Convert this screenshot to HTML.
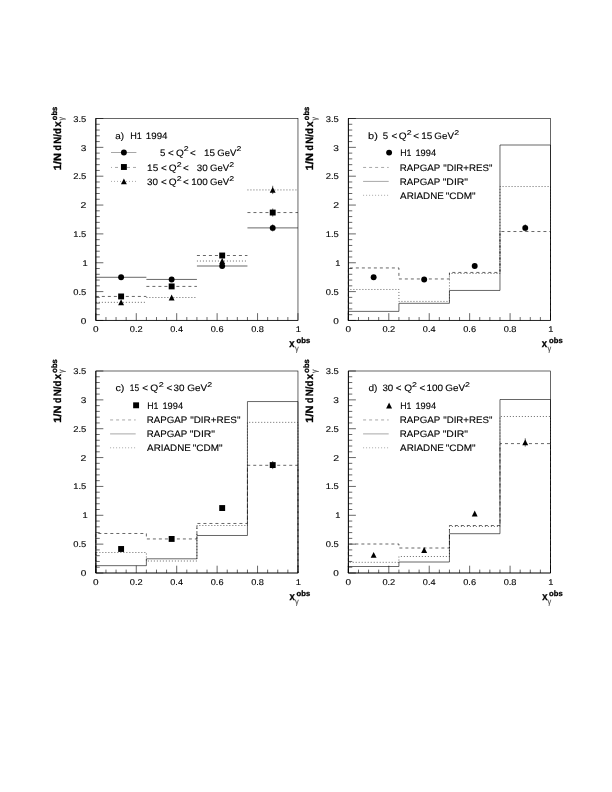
<!DOCTYPE html>
<html><head><meta charset="utf-8"><title>fig</title>
<style>
html,body{margin:0;padding:0;background:#fff;}
svg{display:block;will-change:transform;text-rendering:geometricPrecision;font-family:"Liberation Sans",sans-serif;}
</style></head><body>
<svg width="612" height="792" viewBox="0 0 612 792">
<rect width="612" height="792" fill="#fff"/>
<rect x="95.85" y="118.5" width="202.12000000000003" height="201.95" fill="none" stroke="#000" stroke-width="0.6"/>
<line x1="95.85" y1="118.50" x2="95.85" y2="320.45" stroke="#000" stroke-width="0.6"/>
<line x1="95.85" y1="320.45" x2="297.97" y2="320.45" stroke="#000" stroke-width="0.6"/>
<line x1="95.85" y1="118.50" x2="95.85" y2="320.45" stroke="#000" stroke-width="0.6"/>
<line x1="95.85" y1="320.45" x2="103.35" y2="320.45" stroke="#000" stroke-width="0.6"/>
<text transform="translate(80.76,323.95) scale(1.193,1)" font-size="8.4" fill="#000" stroke="#000" stroke-width="0.12">0</text>
<line x1="95.85" y1="314.68" x2="99.75" y2="314.68" stroke="#000" stroke-width="0.6"/>
<line x1="95.85" y1="308.91" x2="99.75" y2="308.91" stroke="#000" stroke-width="0.6"/>
<line x1="95.85" y1="303.14" x2="99.75" y2="303.14" stroke="#000" stroke-width="0.6"/>
<line x1="95.85" y1="297.37" x2="99.75" y2="297.37" stroke="#000" stroke-width="0.6"/>
<line x1="95.85" y1="291.60" x2="103.35" y2="291.60" stroke="#000" stroke-width="0.6"/>
<text transform="translate(73.28,294.60) scale(1.118,1)" font-size="8.4" fill="#000" stroke="#000" stroke-width="0.12">0.5</text>
<line x1="95.85" y1="285.83" x2="99.75" y2="285.83" stroke="#000" stroke-width="0.6"/>
<line x1="95.85" y1="280.06" x2="99.75" y2="280.06" stroke="#000" stroke-width="0.6"/>
<line x1="95.85" y1="274.29" x2="99.75" y2="274.29" stroke="#000" stroke-width="0.6"/>
<line x1="95.85" y1="268.52" x2="99.75" y2="268.52" stroke="#000" stroke-width="0.6"/>
<line x1="95.85" y1="262.75" x2="103.35" y2="262.75" stroke="#000" stroke-width="0.6"/>
<text transform="translate(82.61,265.75) scale(1.107,1)" font-size="8.4" fill="#000" stroke="#000" stroke-width="0.12">1</text>
<line x1="95.85" y1="256.98" x2="99.75" y2="256.98" stroke="#000" stroke-width="0.6"/>
<line x1="95.85" y1="251.21" x2="99.75" y2="251.21" stroke="#000" stroke-width="0.6"/>
<line x1="95.85" y1="245.44" x2="99.75" y2="245.44" stroke="#000" stroke-width="0.6"/>
<line x1="95.85" y1="239.67" x2="99.75" y2="239.67" stroke="#000" stroke-width="0.6"/>
<line x1="95.85" y1="233.90" x2="103.35" y2="233.90" stroke="#000" stroke-width="0.6"/>
<text transform="translate(73.30,236.90) scale(1.116,1)" font-size="8.4" fill="#000" stroke="#000" stroke-width="0.12">1.5</text>
<line x1="95.85" y1="228.13" x2="99.75" y2="228.13" stroke="#000" stroke-width="0.6"/>
<line x1="95.85" y1="222.36" x2="99.75" y2="222.36" stroke="#000" stroke-width="0.6"/>
<line x1="95.85" y1="216.59" x2="99.75" y2="216.59" stroke="#000" stroke-width="0.6"/>
<line x1="95.85" y1="210.82" x2="99.75" y2="210.82" stroke="#000" stroke-width="0.6"/>
<line x1="95.85" y1="205.05" x2="103.35" y2="205.05" stroke="#000" stroke-width="0.6"/>
<text transform="translate(80.62,208.05) scale(1.253,1)" font-size="8.4" fill="#000" stroke="#000" stroke-width="0.12">2</text>
<line x1="95.85" y1="199.28" x2="99.75" y2="199.28" stroke="#000" stroke-width="0.6"/>
<line x1="95.85" y1="193.51" x2="99.75" y2="193.51" stroke="#000" stroke-width="0.6"/>
<line x1="95.85" y1="187.74" x2="99.75" y2="187.74" stroke="#000" stroke-width="0.6"/>
<line x1="95.85" y1="181.97" x2="99.75" y2="181.97" stroke="#000" stroke-width="0.6"/>
<line x1="95.85" y1="176.20" x2="103.35" y2="176.20" stroke="#000" stroke-width="0.6"/>
<text transform="translate(73.18,179.20) scale(1.127,1)" font-size="8.4" fill="#000" stroke="#000" stroke-width="0.12">2.5</text>
<line x1="95.85" y1="170.43" x2="99.75" y2="170.43" stroke="#000" stroke-width="0.6"/>
<line x1="95.85" y1="164.66" x2="99.75" y2="164.66" stroke="#000" stroke-width="0.6"/>
<line x1="95.85" y1="158.89" x2="99.75" y2="158.89" stroke="#000" stroke-width="0.6"/>
<line x1="95.85" y1="153.12" x2="99.75" y2="153.12" stroke="#000" stroke-width="0.6"/>
<line x1="95.85" y1="147.35" x2="103.35" y2="147.35" stroke="#000" stroke-width="0.6"/>
<text transform="translate(80.77,151.05) scale(1.203,1)" font-size="8.4" fill="#000" stroke="#000" stroke-width="0.12">3</text>
<line x1="95.85" y1="141.58" x2="99.75" y2="141.58" stroke="#000" stroke-width="0.6"/>
<line x1="95.85" y1="135.81" x2="99.75" y2="135.81" stroke="#000" stroke-width="0.6"/>
<line x1="95.85" y1="130.04" x2="99.75" y2="130.04" stroke="#000" stroke-width="0.6"/>
<line x1="95.85" y1="124.27" x2="99.75" y2="124.27" stroke="#000" stroke-width="0.6"/>
<line x1="95.85" y1="118.50" x2="103.35" y2="118.50" stroke="#000" stroke-width="0.6"/>
<text transform="translate(73.29,121.50) scale(1.117,1)" font-size="8.4" fill="#000" stroke="#000" stroke-width="0.12">3.5</text>
<line x1="95.85" y1="320.45" x2="95.85" y2="313.15" stroke="#000" stroke-width="0.6"/>
<text transform="translate(93.06,331.55) scale(1.193,1)" font-size="8.4" fill="#000" stroke="#000" stroke-width="0.12">0</text>
<line x1="105.96" y1="320.45" x2="105.96" y2="317.05" stroke="#000" stroke-width="0.6"/>
<line x1="116.06" y1="320.45" x2="116.06" y2="317.05" stroke="#000" stroke-width="0.6"/>
<line x1="126.17" y1="320.45" x2="126.17" y2="317.05" stroke="#000" stroke-width="0.6"/>
<line x1="136.27" y1="320.45" x2="136.27" y2="313.15" stroke="#000" stroke-width="0.6"/>
<text transform="translate(129.86,331.55) scale(1.107,1)" font-size="8.4" fill="#000" stroke="#000" stroke-width="0.12">0.2</text>
<line x1="146.38" y1="320.45" x2="146.38" y2="317.05" stroke="#000" stroke-width="0.6"/>
<line x1="156.49" y1="320.45" x2="156.49" y2="317.05" stroke="#000" stroke-width="0.6"/>
<line x1="166.59" y1="320.45" x2="166.59" y2="317.05" stroke="#000" stroke-width="0.6"/>
<line x1="176.70" y1="320.45" x2="176.70" y2="313.15" stroke="#000" stroke-width="0.6"/>
<text transform="translate(170.29,331.55) scale(1.090,1)" font-size="8.4" fill="#000" stroke="#000" stroke-width="0.12">0.4</text>
<line x1="186.80" y1="320.45" x2="186.80" y2="317.05" stroke="#000" stroke-width="0.6"/>
<line x1="196.91" y1="320.45" x2="196.91" y2="317.05" stroke="#000" stroke-width="0.6"/>
<line x1="207.02" y1="320.45" x2="207.02" y2="317.05" stroke="#000" stroke-width="0.6"/>
<line x1="217.12" y1="320.45" x2="217.12" y2="313.15" stroke="#000" stroke-width="0.6"/>
<text transform="translate(210.71,331.55) scale(1.101,1)" font-size="8.4" fill="#000" stroke="#000" stroke-width="0.12">0.6</text>
<line x1="227.23" y1="320.45" x2="227.23" y2="317.05" stroke="#000" stroke-width="0.6"/>
<line x1="237.33" y1="320.45" x2="237.33" y2="317.05" stroke="#000" stroke-width="0.6"/>
<line x1="247.44" y1="320.45" x2="247.44" y2="317.05" stroke="#000" stroke-width="0.6"/>
<line x1="257.55" y1="320.45" x2="257.55" y2="313.15" stroke="#000" stroke-width="0.6"/>
<text transform="translate(251.14,331.55) scale(1.101,1)" font-size="8.4" fill="#000" stroke="#000" stroke-width="0.12">0.8</text>
<line x1="267.65" y1="320.45" x2="267.65" y2="317.05" stroke="#000" stroke-width="0.6"/>
<line x1="277.76" y1="320.45" x2="277.76" y2="317.05" stroke="#000" stroke-width="0.6"/>
<line x1="287.86" y1="320.45" x2="287.86" y2="317.05" stroke="#000" stroke-width="0.6"/>
<line x1="297.97" y1="320.45" x2="297.97" y2="313.15" stroke="#000" stroke-width="0.6"/>
<text transform="translate(295.83,331.55) scale(1.107,1)" font-size="8.4" fill="#000" stroke="#000" stroke-width="0.12">1</text>
<text transform="translate(289.31,346.75) scale(0.887,1)" font-size="10.8" font-weight="bold" fill="#000" stroke="#000" stroke-width="0.3">x</text>
<text transform="translate(296.57,342.95) scale(1.007,1)" font-size="7.6" font-weight="bold" fill="#000" stroke="#000" stroke-width="0.3">obs</text>
<text transform="translate(294.95,350.95) scale(0.936,1)" font-size="8" fill="#444" stroke="#444" stroke-width="0.12">γ</text>
<g transform="translate(60.75,118.50) rotate(-90)">
<text transform="translate(-51.76,0.00) scale(1.046,1)" font-size="10.5" font-weight="bold" fill="#000" stroke="#000" stroke-width="0.3">1/N</text>
<text transform="translate(-32.00,0.00) scale(0.822,1)" font-size="10.5" font-weight="bold" fill="#000" stroke="#000" stroke-width="0.3">d</text>
<text transform="translate(-25.13,0.00) scale(0.914,1)" font-size="10.5" font-weight="bold" fill="#000" stroke="#000" stroke-width="0.3">N/d</text>
<text transform="translate(-8.46,0.00) scale(0.965,1)" font-size="10.5" font-weight="bold" fill="#000" stroke="#000" stroke-width="0.3">x</text>
<text transform="translate(-1.69,-3.80) scale(0.966,1)" font-size="7.8" font-weight="bold" fill="#000" stroke="#000" stroke-width="0.3">obs</text>
<text transform="translate(-2.12,3.35) scale(0.860,1)" font-size="8" fill="#444" stroke="#444" stroke-width="0.12">γ</text>
</g>
<rect x="348.38" y="118.5" width="202.12" height="201.95" fill="none" stroke="#000" stroke-width="0.6"/>
<line x1="348.38" y1="118.50" x2="348.38" y2="320.45" stroke="#000" stroke-width="0.6"/>
<line x1="348.38" y1="320.45" x2="550.50" y2="320.45" stroke="#000" stroke-width="0.6"/>
<line x1="348.38" y1="118.50" x2="348.38" y2="320.45" stroke="#000" stroke-width="0.6"/>
<line x1="348.38" y1="320.45" x2="355.88" y2="320.45" stroke="#000" stroke-width="0.6"/>
<text transform="translate(333.29,323.95) scale(1.193,1)" font-size="8.4" fill="#000" stroke="#000" stroke-width="0.12">0</text>
<line x1="348.38" y1="314.68" x2="352.28" y2="314.68" stroke="#000" stroke-width="0.6"/>
<line x1="348.38" y1="308.91" x2="352.28" y2="308.91" stroke="#000" stroke-width="0.6"/>
<line x1="348.38" y1="303.14" x2="352.28" y2="303.14" stroke="#000" stroke-width="0.6"/>
<line x1="348.38" y1="297.37" x2="352.28" y2="297.37" stroke="#000" stroke-width="0.6"/>
<line x1="348.38" y1="291.60" x2="355.88" y2="291.60" stroke="#000" stroke-width="0.6"/>
<text transform="translate(325.81,294.60) scale(1.118,1)" font-size="8.4" fill="#000" stroke="#000" stroke-width="0.12">0.5</text>
<line x1="348.38" y1="285.83" x2="352.28" y2="285.83" stroke="#000" stroke-width="0.6"/>
<line x1="348.38" y1="280.06" x2="352.28" y2="280.06" stroke="#000" stroke-width="0.6"/>
<line x1="348.38" y1="274.29" x2="352.28" y2="274.29" stroke="#000" stroke-width="0.6"/>
<line x1="348.38" y1="268.52" x2="352.28" y2="268.52" stroke="#000" stroke-width="0.6"/>
<line x1="348.38" y1="262.75" x2="355.88" y2="262.75" stroke="#000" stroke-width="0.6"/>
<text transform="translate(335.14,265.75) scale(1.107,1)" font-size="8.4" fill="#000" stroke="#000" stroke-width="0.12">1</text>
<line x1="348.38" y1="256.98" x2="352.28" y2="256.98" stroke="#000" stroke-width="0.6"/>
<line x1="348.38" y1="251.21" x2="352.28" y2="251.21" stroke="#000" stroke-width="0.6"/>
<line x1="348.38" y1="245.44" x2="352.28" y2="245.44" stroke="#000" stroke-width="0.6"/>
<line x1="348.38" y1="239.67" x2="352.28" y2="239.67" stroke="#000" stroke-width="0.6"/>
<line x1="348.38" y1="233.90" x2="355.88" y2="233.90" stroke="#000" stroke-width="0.6"/>
<text transform="translate(325.83,236.90) scale(1.116,1)" font-size="8.4" fill="#000" stroke="#000" stroke-width="0.12">1.5</text>
<line x1="348.38" y1="228.13" x2="352.28" y2="228.13" stroke="#000" stroke-width="0.6"/>
<line x1="348.38" y1="222.36" x2="352.28" y2="222.36" stroke="#000" stroke-width="0.6"/>
<line x1="348.38" y1="216.59" x2="352.28" y2="216.59" stroke="#000" stroke-width="0.6"/>
<line x1="348.38" y1="210.82" x2="352.28" y2="210.82" stroke="#000" stroke-width="0.6"/>
<line x1="348.38" y1="205.05" x2="355.88" y2="205.05" stroke="#000" stroke-width="0.6"/>
<text transform="translate(333.15,208.05) scale(1.253,1)" font-size="8.4" fill="#000" stroke="#000" stroke-width="0.12">2</text>
<line x1="348.38" y1="199.28" x2="352.28" y2="199.28" stroke="#000" stroke-width="0.6"/>
<line x1="348.38" y1="193.51" x2="352.28" y2="193.51" stroke="#000" stroke-width="0.6"/>
<line x1="348.38" y1="187.74" x2="352.28" y2="187.74" stroke="#000" stroke-width="0.6"/>
<line x1="348.38" y1="181.97" x2="352.28" y2="181.97" stroke="#000" stroke-width="0.6"/>
<line x1="348.38" y1="176.20" x2="355.88" y2="176.20" stroke="#000" stroke-width="0.6"/>
<text transform="translate(325.71,179.20) scale(1.127,1)" font-size="8.4" fill="#000" stroke="#000" stroke-width="0.12">2.5</text>
<line x1="348.38" y1="170.43" x2="352.28" y2="170.43" stroke="#000" stroke-width="0.6"/>
<line x1="348.38" y1="164.66" x2="352.28" y2="164.66" stroke="#000" stroke-width="0.6"/>
<line x1="348.38" y1="158.89" x2="352.28" y2="158.89" stroke="#000" stroke-width="0.6"/>
<line x1="348.38" y1="153.12" x2="352.28" y2="153.12" stroke="#000" stroke-width="0.6"/>
<line x1="348.38" y1="147.35" x2="355.88" y2="147.35" stroke="#000" stroke-width="0.6"/>
<text transform="translate(333.30,151.05) scale(1.203,1)" font-size="8.4" fill="#000" stroke="#000" stroke-width="0.12">3</text>
<line x1="348.38" y1="141.58" x2="352.28" y2="141.58" stroke="#000" stroke-width="0.6"/>
<line x1="348.38" y1="135.81" x2="352.28" y2="135.81" stroke="#000" stroke-width="0.6"/>
<line x1="348.38" y1="130.04" x2="352.28" y2="130.04" stroke="#000" stroke-width="0.6"/>
<line x1="348.38" y1="124.27" x2="352.28" y2="124.27" stroke="#000" stroke-width="0.6"/>
<line x1="348.38" y1="118.50" x2="355.88" y2="118.50" stroke="#000" stroke-width="0.6"/>
<text transform="translate(325.82,121.50) scale(1.117,1)" font-size="8.4" fill="#000" stroke="#000" stroke-width="0.12">3.5</text>
<line x1="348.38" y1="320.45" x2="348.38" y2="313.15" stroke="#000" stroke-width="0.6"/>
<text transform="translate(345.59,331.55) scale(1.193,1)" font-size="8.4" fill="#000" stroke="#000" stroke-width="0.12">0</text>
<line x1="358.49" y1="320.45" x2="358.49" y2="317.05" stroke="#000" stroke-width="0.6"/>
<line x1="368.59" y1="320.45" x2="368.59" y2="317.05" stroke="#000" stroke-width="0.6"/>
<line x1="378.70" y1="320.45" x2="378.70" y2="317.05" stroke="#000" stroke-width="0.6"/>
<line x1="388.80" y1="320.45" x2="388.80" y2="313.15" stroke="#000" stroke-width="0.6"/>
<text transform="translate(382.39,331.55) scale(1.107,1)" font-size="8.4" fill="#000" stroke="#000" stroke-width="0.12">0.2</text>
<line x1="398.91" y1="320.45" x2="398.91" y2="317.05" stroke="#000" stroke-width="0.6"/>
<line x1="409.02" y1="320.45" x2="409.02" y2="317.05" stroke="#000" stroke-width="0.6"/>
<line x1="419.12" y1="320.45" x2="419.12" y2="317.05" stroke="#000" stroke-width="0.6"/>
<line x1="429.23" y1="320.45" x2="429.23" y2="313.15" stroke="#000" stroke-width="0.6"/>
<text transform="translate(422.82,331.55) scale(1.090,1)" font-size="8.4" fill="#000" stroke="#000" stroke-width="0.12">0.4</text>
<line x1="439.33" y1="320.45" x2="439.33" y2="317.05" stroke="#000" stroke-width="0.6"/>
<line x1="449.44" y1="320.45" x2="449.44" y2="317.05" stroke="#000" stroke-width="0.6"/>
<line x1="459.55" y1="320.45" x2="459.55" y2="317.05" stroke="#000" stroke-width="0.6"/>
<line x1="469.65" y1="320.45" x2="469.65" y2="313.15" stroke="#000" stroke-width="0.6"/>
<text transform="translate(463.24,331.55) scale(1.101,1)" font-size="8.4" fill="#000" stroke="#000" stroke-width="0.12">0.6</text>
<line x1="479.76" y1="320.45" x2="479.76" y2="317.05" stroke="#000" stroke-width="0.6"/>
<line x1="489.86" y1="320.45" x2="489.86" y2="317.05" stroke="#000" stroke-width="0.6"/>
<line x1="499.97" y1="320.45" x2="499.97" y2="317.05" stroke="#000" stroke-width="0.6"/>
<line x1="510.08" y1="320.45" x2="510.08" y2="313.15" stroke="#000" stroke-width="0.6"/>
<text transform="translate(503.67,331.55) scale(1.101,1)" font-size="8.4" fill="#000" stroke="#000" stroke-width="0.12">0.8</text>
<line x1="520.18" y1="320.45" x2="520.18" y2="317.05" stroke="#000" stroke-width="0.6"/>
<line x1="530.29" y1="320.45" x2="530.29" y2="317.05" stroke="#000" stroke-width="0.6"/>
<line x1="540.39" y1="320.45" x2="540.39" y2="317.05" stroke="#000" stroke-width="0.6"/>
<line x1="550.50" y1="320.45" x2="550.50" y2="313.15" stroke="#000" stroke-width="0.6"/>
<text transform="translate(548.36,331.55) scale(1.107,1)" font-size="8.4" fill="#000" stroke="#000" stroke-width="0.12">1</text>
<text transform="translate(541.84,346.75) scale(0.887,1)" font-size="10.8" font-weight="bold" fill="#000" stroke="#000" stroke-width="0.3">x</text>
<text transform="translate(549.10,342.95) scale(1.007,1)" font-size="7.6" font-weight="bold" fill="#000" stroke="#000" stroke-width="0.3">obs</text>
<text transform="translate(547.48,350.95) scale(0.936,1)" font-size="8" fill="#444" stroke="#444" stroke-width="0.12">γ</text>
<g transform="translate(313.28,118.50) rotate(-90)">
<text transform="translate(-51.76,0.00) scale(1.046,1)" font-size="10.5" font-weight="bold" fill="#000" stroke="#000" stroke-width="0.3">1/N</text>
<text transform="translate(-32.00,0.00) scale(0.822,1)" font-size="10.5" font-weight="bold" fill="#000" stroke="#000" stroke-width="0.3">d</text>
<text transform="translate(-25.13,0.00) scale(0.914,1)" font-size="10.5" font-weight="bold" fill="#000" stroke="#000" stroke-width="0.3">N/d</text>
<text transform="translate(-8.46,0.00) scale(0.965,1)" font-size="10.5" font-weight="bold" fill="#000" stroke="#000" stroke-width="0.3">x</text>
<text transform="translate(-1.69,-3.80) scale(0.966,1)" font-size="7.8" font-weight="bold" fill="#000" stroke="#000" stroke-width="0.3">obs</text>
<text transform="translate(-2.12,3.35) scale(0.860,1)" font-size="8" fill="#444" stroke="#444" stroke-width="0.12">γ</text>
</g>
<rect x="95.85" y="371.0" width="202.12000000000003" height="202.0" fill="none" stroke="#000" stroke-width="0.6"/>
<line x1="95.85" y1="371.00" x2="95.85" y2="573.00" stroke="#000" stroke-width="0.6"/>
<line x1="95.85" y1="573.00" x2="297.97" y2="573.00" stroke="#000" stroke-width="0.6"/>
<line x1="95.85" y1="371.00" x2="95.85" y2="573.00" stroke="#000" stroke-width="0.6"/>
<line x1="95.85" y1="573.00" x2="103.35" y2="573.00" stroke="#000" stroke-width="0.6"/>
<text transform="translate(80.76,576.00) scale(1.193,1)" font-size="8.4" fill="#000" stroke="#000" stroke-width="0.12">0</text>
<line x1="95.85" y1="567.23" x2="99.75" y2="567.23" stroke="#000" stroke-width="0.6"/>
<line x1="95.85" y1="561.46" x2="99.75" y2="561.46" stroke="#000" stroke-width="0.6"/>
<line x1="95.85" y1="555.69" x2="99.75" y2="555.69" stroke="#000" stroke-width="0.6"/>
<line x1="95.85" y1="549.91" x2="99.75" y2="549.91" stroke="#000" stroke-width="0.6"/>
<line x1="95.85" y1="544.14" x2="103.35" y2="544.14" stroke="#000" stroke-width="0.6"/>
<text transform="translate(73.28,547.14) scale(1.118,1)" font-size="8.4" fill="#000" stroke="#000" stroke-width="0.12">0.5</text>
<line x1="95.85" y1="538.37" x2="99.75" y2="538.37" stroke="#000" stroke-width="0.6"/>
<line x1="95.85" y1="532.60" x2="99.75" y2="532.60" stroke="#000" stroke-width="0.6"/>
<line x1="95.85" y1="526.83" x2="99.75" y2="526.83" stroke="#000" stroke-width="0.6"/>
<line x1="95.85" y1="521.06" x2="99.75" y2="521.06" stroke="#000" stroke-width="0.6"/>
<line x1="95.85" y1="515.29" x2="103.35" y2="515.29" stroke="#000" stroke-width="0.6"/>
<text transform="translate(82.61,518.29) scale(1.107,1)" font-size="8.4" fill="#000" stroke="#000" stroke-width="0.12">1</text>
<line x1="95.85" y1="509.51" x2="99.75" y2="509.51" stroke="#000" stroke-width="0.6"/>
<line x1="95.85" y1="503.74" x2="99.75" y2="503.74" stroke="#000" stroke-width="0.6"/>
<line x1="95.85" y1="497.97" x2="99.75" y2="497.97" stroke="#000" stroke-width="0.6"/>
<line x1="95.85" y1="492.20" x2="99.75" y2="492.20" stroke="#000" stroke-width="0.6"/>
<line x1="95.85" y1="486.43" x2="103.35" y2="486.43" stroke="#000" stroke-width="0.6"/>
<text transform="translate(73.30,489.43) scale(1.116,1)" font-size="8.4" fill="#000" stroke="#000" stroke-width="0.12">1.5</text>
<line x1="95.85" y1="480.66" x2="99.75" y2="480.66" stroke="#000" stroke-width="0.6"/>
<line x1="95.85" y1="474.89" x2="99.75" y2="474.89" stroke="#000" stroke-width="0.6"/>
<line x1="95.85" y1="469.11" x2="99.75" y2="469.11" stroke="#000" stroke-width="0.6"/>
<line x1="95.85" y1="463.34" x2="99.75" y2="463.34" stroke="#000" stroke-width="0.6"/>
<line x1="95.85" y1="457.57" x2="103.35" y2="457.57" stroke="#000" stroke-width="0.6"/>
<text transform="translate(80.62,460.57) scale(1.253,1)" font-size="8.4" fill="#000" stroke="#000" stroke-width="0.12">2</text>
<line x1="95.85" y1="451.80" x2="99.75" y2="451.80" stroke="#000" stroke-width="0.6"/>
<line x1="95.85" y1="446.03" x2="99.75" y2="446.03" stroke="#000" stroke-width="0.6"/>
<line x1="95.85" y1="440.26" x2="99.75" y2="440.26" stroke="#000" stroke-width="0.6"/>
<line x1="95.85" y1="434.49" x2="99.75" y2="434.49" stroke="#000" stroke-width="0.6"/>
<line x1="95.85" y1="428.71" x2="103.35" y2="428.71" stroke="#000" stroke-width="0.6"/>
<text transform="translate(73.18,431.71) scale(1.127,1)" font-size="8.4" fill="#000" stroke="#000" stroke-width="0.12">2.5</text>
<line x1="95.85" y1="422.94" x2="99.75" y2="422.94" stroke="#000" stroke-width="0.6"/>
<line x1="95.85" y1="417.17" x2="99.75" y2="417.17" stroke="#000" stroke-width="0.6"/>
<line x1="95.85" y1="411.40" x2="99.75" y2="411.40" stroke="#000" stroke-width="0.6"/>
<line x1="95.85" y1="405.63" x2="99.75" y2="405.63" stroke="#000" stroke-width="0.6"/>
<line x1="95.85" y1="399.86" x2="103.35" y2="399.86" stroke="#000" stroke-width="0.6"/>
<text transform="translate(80.77,402.86) scale(1.203,1)" font-size="8.4" fill="#000" stroke="#000" stroke-width="0.12">3</text>
<line x1="95.85" y1="394.09" x2="99.75" y2="394.09" stroke="#000" stroke-width="0.6"/>
<line x1="95.85" y1="388.31" x2="99.75" y2="388.31" stroke="#000" stroke-width="0.6"/>
<line x1="95.85" y1="382.54" x2="99.75" y2="382.54" stroke="#000" stroke-width="0.6"/>
<line x1="95.85" y1="376.77" x2="99.75" y2="376.77" stroke="#000" stroke-width="0.6"/>
<line x1="95.85" y1="371.00" x2="103.35" y2="371.00" stroke="#000" stroke-width="0.6"/>
<text transform="translate(73.29,374.00) scale(1.117,1)" font-size="8.4" fill="#000" stroke="#000" stroke-width="0.12">3.5</text>
<line x1="95.85" y1="573.00" x2="95.85" y2="565.70" stroke="#000" stroke-width="0.6"/>
<text transform="translate(93.06,584.80) scale(1.193,1)" font-size="8.4" fill="#000" stroke="#000" stroke-width="0.12">0</text>
<line x1="105.96" y1="573.00" x2="105.96" y2="569.60" stroke="#000" stroke-width="0.6"/>
<line x1="116.06" y1="573.00" x2="116.06" y2="569.60" stroke="#000" stroke-width="0.6"/>
<line x1="126.17" y1="573.00" x2="126.17" y2="569.60" stroke="#000" stroke-width="0.6"/>
<line x1="136.27" y1="573.00" x2="136.27" y2="565.70" stroke="#000" stroke-width="0.6"/>
<text transform="translate(129.86,584.80) scale(1.107,1)" font-size="8.4" fill="#000" stroke="#000" stroke-width="0.12">0.2</text>
<line x1="146.38" y1="573.00" x2="146.38" y2="569.60" stroke="#000" stroke-width="0.6"/>
<line x1="156.49" y1="573.00" x2="156.49" y2="569.60" stroke="#000" stroke-width="0.6"/>
<line x1="166.59" y1="573.00" x2="166.59" y2="569.60" stroke="#000" stroke-width="0.6"/>
<line x1="176.70" y1="573.00" x2="176.70" y2="565.70" stroke="#000" stroke-width="0.6"/>
<text transform="translate(170.29,584.80) scale(1.090,1)" font-size="8.4" fill="#000" stroke="#000" stroke-width="0.12">0.4</text>
<line x1="186.80" y1="573.00" x2="186.80" y2="569.60" stroke="#000" stroke-width="0.6"/>
<line x1="196.91" y1="573.00" x2="196.91" y2="569.60" stroke="#000" stroke-width="0.6"/>
<line x1="207.02" y1="573.00" x2="207.02" y2="569.60" stroke="#000" stroke-width="0.6"/>
<line x1="217.12" y1="573.00" x2="217.12" y2="565.70" stroke="#000" stroke-width="0.6"/>
<text transform="translate(210.71,584.80) scale(1.101,1)" font-size="8.4" fill="#000" stroke="#000" stroke-width="0.12">0.6</text>
<line x1="227.23" y1="573.00" x2="227.23" y2="569.60" stroke="#000" stroke-width="0.6"/>
<line x1="237.33" y1="573.00" x2="237.33" y2="569.60" stroke="#000" stroke-width="0.6"/>
<line x1="247.44" y1="573.00" x2="247.44" y2="569.60" stroke="#000" stroke-width="0.6"/>
<line x1="257.55" y1="573.00" x2="257.55" y2="565.70" stroke="#000" stroke-width="0.6"/>
<text transform="translate(251.14,584.80) scale(1.101,1)" font-size="8.4" fill="#000" stroke="#000" stroke-width="0.12">0.8</text>
<line x1="267.65" y1="573.00" x2="267.65" y2="569.60" stroke="#000" stroke-width="0.6"/>
<line x1="277.76" y1="573.00" x2="277.76" y2="569.60" stroke="#000" stroke-width="0.6"/>
<line x1="287.86" y1="573.00" x2="287.86" y2="569.60" stroke="#000" stroke-width="0.6"/>
<line x1="297.97" y1="573.00" x2="297.97" y2="565.70" stroke="#000" stroke-width="0.6"/>
<text transform="translate(295.83,584.80) scale(1.107,1)" font-size="8.4" fill="#000" stroke="#000" stroke-width="0.12">1</text>
<text transform="translate(289.61,599.90) scale(0.887,1)" font-size="10.8" font-weight="bold" fill="#000" stroke="#000" stroke-width="0.3">x</text>
<text transform="translate(296.57,595.50) scale(1.007,1)" font-size="7.6" font-weight="bold" fill="#000" stroke="#000" stroke-width="0.3">obs</text>
<text transform="translate(294.95,603.50) scale(0.936,1)" font-size="8" fill="#444" stroke="#444" stroke-width="0.12">γ</text>
<g transform="translate(60.75,371.00) rotate(-90)">
<text transform="translate(-51.76,0.00) scale(1.046,1)" font-size="10.5" font-weight="bold" fill="#000" stroke="#000" stroke-width="0.3">1/N</text>
<text transform="translate(-32.00,0.00) scale(0.822,1)" font-size="10.5" font-weight="bold" fill="#000" stroke="#000" stroke-width="0.3">d</text>
<text transform="translate(-25.13,0.00) scale(0.914,1)" font-size="10.5" font-weight="bold" fill="#000" stroke="#000" stroke-width="0.3">N/d</text>
<text transform="translate(-8.46,0.00) scale(0.965,1)" font-size="10.5" font-weight="bold" fill="#000" stroke="#000" stroke-width="0.3">x</text>
<text transform="translate(-1.69,-3.80) scale(0.966,1)" font-size="7.8" font-weight="bold" fill="#000" stroke="#000" stroke-width="0.3">obs</text>
<text transform="translate(-2.12,3.35) scale(0.860,1)" font-size="8" fill="#444" stroke="#444" stroke-width="0.12">γ</text>
</g>
<rect x="348.38" y="371.0" width="202.12" height="202.0" fill="none" stroke="#000" stroke-width="0.6"/>
<line x1="348.38" y1="371.00" x2="348.38" y2="573.00" stroke="#000" stroke-width="0.6"/>
<line x1="348.38" y1="573.00" x2="550.50" y2="573.00" stroke="#000" stroke-width="0.6"/>
<line x1="348.38" y1="371.00" x2="348.38" y2="573.00" stroke="#000" stroke-width="0.6"/>
<line x1="348.38" y1="573.00" x2="355.88" y2="573.00" stroke="#000" stroke-width="0.6"/>
<text transform="translate(333.29,576.00) scale(1.193,1)" font-size="8.4" fill="#000" stroke="#000" stroke-width="0.12">0</text>
<line x1="348.38" y1="567.23" x2="352.28" y2="567.23" stroke="#000" stroke-width="0.6"/>
<line x1="348.38" y1="561.46" x2="352.28" y2="561.46" stroke="#000" stroke-width="0.6"/>
<line x1="348.38" y1="555.69" x2="352.28" y2="555.69" stroke="#000" stroke-width="0.6"/>
<line x1="348.38" y1="549.91" x2="352.28" y2="549.91" stroke="#000" stroke-width="0.6"/>
<line x1="348.38" y1="544.14" x2="355.88" y2="544.14" stroke="#000" stroke-width="0.6"/>
<text transform="translate(325.81,547.14) scale(1.118,1)" font-size="8.4" fill="#000" stroke="#000" stroke-width="0.12">0.5</text>
<line x1="348.38" y1="538.37" x2="352.28" y2="538.37" stroke="#000" stroke-width="0.6"/>
<line x1="348.38" y1="532.60" x2="352.28" y2="532.60" stroke="#000" stroke-width="0.6"/>
<line x1="348.38" y1="526.83" x2="352.28" y2="526.83" stroke="#000" stroke-width="0.6"/>
<line x1="348.38" y1="521.06" x2="352.28" y2="521.06" stroke="#000" stroke-width="0.6"/>
<line x1="348.38" y1="515.29" x2="355.88" y2="515.29" stroke="#000" stroke-width="0.6"/>
<text transform="translate(335.14,518.29) scale(1.107,1)" font-size="8.4" fill="#000" stroke="#000" stroke-width="0.12">1</text>
<line x1="348.38" y1="509.51" x2="352.28" y2="509.51" stroke="#000" stroke-width="0.6"/>
<line x1="348.38" y1="503.74" x2="352.28" y2="503.74" stroke="#000" stroke-width="0.6"/>
<line x1="348.38" y1="497.97" x2="352.28" y2="497.97" stroke="#000" stroke-width="0.6"/>
<line x1="348.38" y1="492.20" x2="352.28" y2="492.20" stroke="#000" stroke-width="0.6"/>
<line x1="348.38" y1="486.43" x2="355.88" y2="486.43" stroke="#000" stroke-width="0.6"/>
<text transform="translate(325.83,489.43) scale(1.116,1)" font-size="8.4" fill="#000" stroke="#000" stroke-width="0.12">1.5</text>
<line x1="348.38" y1="480.66" x2="352.28" y2="480.66" stroke="#000" stroke-width="0.6"/>
<line x1="348.38" y1="474.89" x2="352.28" y2="474.89" stroke="#000" stroke-width="0.6"/>
<line x1="348.38" y1="469.11" x2="352.28" y2="469.11" stroke="#000" stroke-width="0.6"/>
<line x1="348.38" y1="463.34" x2="352.28" y2="463.34" stroke="#000" stroke-width="0.6"/>
<line x1="348.38" y1="457.57" x2="355.88" y2="457.57" stroke="#000" stroke-width="0.6"/>
<text transform="translate(333.15,460.57) scale(1.253,1)" font-size="8.4" fill="#000" stroke="#000" stroke-width="0.12">2</text>
<line x1="348.38" y1="451.80" x2="352.28" y2="451.80" stroke="#000" stroke-width="0.6"/>
<line x1="348.38" y1="446.03" x2="352.28" y2="446.03" stroke="#000" stroke-width="0.6"/>
<line x1="348.38" y1="440.26" x2="352.28" y2="440.26" stroke="#000" stroke-width="0.6"/>
<line x1="348.38" y1="434.49" x2="352.28" y2="434.49" stroke="#000" stroke-width="0.6"/>
<line x1="348.38" y1="428.71" x2="355.88" y2="428.71" stroke="#000" stroke-width="0.6"/>
<text transform="translate(325.71,431.71) scale(1.127,1)" font-size="8.4" fill="#000" stroke="#000" stroke-width="0.12">2.5</text>
<line x1="348.38" y1="422.94" x2="352.28" y2="422.94" stroke="#000" stroke-width="0.6"/>
<line x1="348.38" y1="417.17" x2="352.28" y2="417.17" stroke="#000" stroke-width="0.6"/>
<line x1="348.38" y1="411.40" x2="352.28" y2="411.40" stroke="#000" stroke-width="0.6"/>
<line x1="348.38" y1="405.63" x2="352.28" y2="405.63" stroke="#000" stroke-width="0.6"/>
<line x1="348.38" y1="399.86" x2="355.88" y2="399.86" stroke="#000" stroke-width="0.6"/>
<text transform="translate(333.30,402.86) scale(1.203,1)" font-size="8.4" fill="#000" stroke="#000" stroke-width="0.12">3</text>
<line x1="348.38" y1="394.09" x2="352.28" y2="394.09" stroke="#000" stroke-width="0.6"/>
<line x1="348.38" y1="388.31" x2="352.28" y2="388.31" stroke="#000" stroke-width="0.6"/>
<line x1="348.38" y1="382.54" x2="352.28" y2="382.54" stroke="#000" stroke-width="0.6"/>
<line x1="348.38" y1="376.77" x2="352.28" y2="376.77" stroke="#000" stroke-width="0.6"/>
<line x1="348.38" y1="371.00" x2="355.88" y2="371.00" stroke="#000" stroke-width="0.6"/>
<text transform="translate(325.82,374.00) scale(1.117,1)" font-size="8.4" fill="#000" stroke="#000" stroke-width="0.12">3.5</text>
<line x1="348.38" y1="573.00" x2="348.38" y2="565.70" stroke="#000" stroke-width="0.6"/>
<text transform="translate(345.59,584.80) scale(1.193,1)" font-size="8.4" fill="#000" stroke="#000" stroke-width="0.12">0</text>
<line x1="358.49" y1="573.00" x2="358.49" y2="569.60" stroke="#000" stroke-width="0.6"/>
<line x1="368.59" y1="573.00" x2="368.59" y2="569.60" stroke="#000" stroke-width="0.6"/>
<line x1="378.70" y1="573.00" x2="378.70" y2="569.60" stroke="#000" stroke-width="0.6"/>
<line x1="388.80" y1="573.00" x2="388.80" y2="565.70" stroke="#000" stroke-width="0.6"/>
<text transform="translate(382.39,584.80) scale(1.107,1)" font-size="8.4" fill="#000" stroke="#000" stroke-width="0.12">0.2</text>
<line x1="398.91" y1="573.00" x2="398.91" y2="569.60" stroke="#000" stroke-width="0.6"/>
<line x1="409.02" y1="573.00" x2="409.02" y2="569.60" stroke="#000" stroke-width="0.6"/>
<line x1="419.12" y1="573.00" x2="419.12" y2="569.60" stroke="#000" stroke-width="0.6"/>
<line x1="429.23" y1="573.00" x2="429.23" y2="565.70" stroke="#000" stroke-width="0.6"/>
<text transform="translate(422.82,584.80) scale(1.090,1)" font-size="8.4" fill="#000" stroke="#000" stroke-width="0.12">0.4</text>
<line x1="439.33" y1="573.00" x2="439.33" y2="569.60" stroke="#000" stroke-width="0.6"/>
<line x1="449.44" y1="573.00" x2="449.44" y2="569.60" stroke="#000" stroke-width="0.6"/>
<line x1="459.55" y1="573.00" x2="459.55" y2="569.60" stroke="#000" stroke-width="0.6"/>
<line x1="469.65" y1="573.00" x2="469.65" y2="565.70" stroke="#000" stroke-width="0.6"/>
<text transform="translate(463.24,584.80) scale(1.101,1)" font-size="8.4" fill="#000" stroke="#000" stroke-width="0.12">0.6</text>
<line x1="479.76" y1="573.00" x2="479.76" y2="569.60" stroke="#000" stroke-width="0.6"/>
<line x1="489.86" y1="573.00" x2="489.86" y2="569.60" stroke="#000" stroke-width="0.6"/>
<line x1="499.97" y1="573.00" x2="499.97" y2="569.60" stroke="#000" stroke-width="0.6"/>
<line x1="510.08" y1="573.00" x2="510.08" y2="565.70" stroke="#000" stroke-width="0.6"/>
<text transform="translate(503.67,584.80) scale(1.101,1)" font-size="8.4" fill="#000" stroke="#000" stroke-width="0.12">0.8</text>
<line x1="520.18" y1="573.00" x2="520.18" y2="569.60" stroke="#000" stroke-width="0.6"/>
<line x1="530.29" y1="573.00" x2="530.29" y2="569.60" stroke="#000" stroke-width="0.6"/>
<line x1="540.39" y1="573.00" x2="540.39" y2="569.60" stroke="#000" stroke-width="0.6"/>
<line x1="550.50" y1="573.00" x2="550.50" y2="565.70" stroke="#000" stroke-width="0.6"/>
<text transform="translate(548.36,584.80) scale(1.107,1)" font-size="8.4" fill="#000" stroke="#000" stroke-width="0.12">1</text>
<text transform="translate(542.14,599.90) scale(0.887,1)" font-size="10.8" font-weight="bold" fill="#000" stroke="#000" stroke-width="0.3">x</text>
<text transform="translate(549.10,595.50) scale(1.007,1)" font-size="7.6" font-weight="bold" fill="#000" stroke="#000" stroke-width="0.3">obs</text>
<text transform="translate(547.48,603.50) scale(0.936,1)" font-size="8" fill="#444" stroke="#444" stroke-width="0.12">γ</text>
<g transform="translate(313.28,371.00) rotate(-90)">
<text transform="translate(-51.76,0.00) scale(1.046,1)" font-size="10.5" font-weight="bold" fill="#000" stroke="#000" stroke-width="0.3">1/N</text>
<text transform="translate(-32.00,0.00) scale(0.822,1)" font-size="10.5" font-weight="bold" fill="#000" stroke="#000" stroke-width="0.3">d</text>
<text transform="translate(-25.13,0.00) scale(0.914,1)" font-size="10.5" font-weight="bold" fill="#000" stroke="#000" stroke-width="0.3">N/d</text>
<text transform="translate(-8.46,0.00) scale(0.965,1)" font-size="10.5" font-weight="bold" fill="#000" stroke="#000" stroke-width="0.3">x</text>
<text transform="translate(-1.69,-3.80) scale(0.966,1)" font-size="7.8" font-weight="bold" fill="#000" stroke="#000" stroke-width="0.3">obs</text>
<text transform="translate(-2.12,3.35) scale(0.860,1)" font-size="8" fill="#444" stroke="#444" stroke-width="0.12">γ</text>
</g>
<line x1="95.85" y1="277.29" x2="146.38" y2="277.29" stroke="#000" stroke-width="0.6"/>
<circle cx="121.11" cy="277.29" r="2.95" fill="#000"/>
<line x1="146.38" y1="279.43" x2="196.91" y2="279.43" stroke="#000" stroke-width="0.6"/>
<circle cx="171.65" cy="279.43" r="2.95" fill="#000"/>
<line x1="196.91" y1="266.01" x2="247.44" y2="266.01" stroke="#000" stroke-width="0.6"/>
<circle cx="222.18" cy="266.01" r="2.95" fill="#000"/>
<line x1="247.44" y1="227.90" x2="297.97" y2="227.90" stroke="#000" stroke-width="0.6"/>
<line x1="272.71" y1="224.32" x2="272.71" y2="231.48" stroke="#000" stroke-width="0.6"/>
<circle cx="272.71" cy="227.90" r="2.95" fill="#000"/>
<line x1="95.85" y1="296.45" x2="146.38" y2="296.45" stroke="#000" stroke-width="0.6" stroke-dasharray="3 3"/>
<rect x="118.16" y="293.50" width="5.9" height="5.9" fill="#000"/>
<line x1="146.38" y1="286.41" x2="196.91" y2="286.41" stroke="#000" stroke-width="0.6" stroke-dasharray="3 3"/>
<rect x="168.70" y="283.46" width="5.9" height="5.9" fill="#000"/>
<line x1="196.91" y1="255.51" x2="247.44" y2="255.51" stroke="#000" stroke-width="0.6" stroke-dasharray="3 3"/>
<rect x="219.23" y="252.56" width="5.9" height="5.9" fill="#000"/>
<line x1="247.44" y1="212.55" x2="297.97" y2="212.55" stroke="#000" stroke-width="0.6" stroke-dasharray="3 3"/>
<line x1="272.71" y1="208.51" x2="272.71" y2="216.59" stroke="#000" stroke-width="0.6"/>
<rect x="269.76" y="209.60" width="5.9" height="5.9" fill="#000"/>
<line x1="95.85" y1="302.33" x2="146.38" y2="302.33" stroke="#000" stroke-width="0.6" stroke-dasharray="1 2"/>
<polygon points="118.16,305.23 124.06,305.23 121.11,299.33" fill="#000"/>
<line x1="146.38" y1="297.50" x2="196.91" y2="297.50" stroke="#000" stroke-width="0.6" stroke-dasharray="1 2"/>
<polygon points="168.70,300.40 174.59,300.40 171.65,294.50" fill="#000"/>
<line x1="196.91" y1="261.02" x2="247.44" y2="261.02" stroke="#000" stroke-width="0.6" stroke-dasharray="1 2"/>
<polygon points="219.23,263.92 225.12,263.92 222.18,258.02" fill="#000"/>
<line x1="247.44" y1="189.93" x2="297.97" y2="189.93" stroke="#000" stroke-width="0.6" stroke-dasharray="1 2"/>
<line x1="272.71" y1="185.78" x2="272.71" y2="194.09" stroke="#000" stroke-width="0.6"/>
<polygon points="269.76,192.83 275.66,192.83 272.71,186.93" fill="#000"/>
<text transform="translate(115.28,138.90) scale(1.068,1)" font-size="9.3" fill="#000" stroke="#000" stroke-width="0.12">a)</text>
<text transform="translate(130.15,138.90) scale(0.979,1)" font-size="9.3" fill="#000" stroke="#000" stroke-width="0.12">H1</text>
<text transform="translate(145.82,138.90) scale(1.048,1)" font-size="9.3" fill="#000" stroke="#000" stroke-width="0.12">1994</text>
<line x1="111.00" y1="152.50" x2="136.40" y2="152.50" stroke="#000" stroke-width="0.35"/>
<circle cx="123.90" cy="152.50" r="2.95" fill="#000"/>
<line x1="111.00" y1="167.45" x2="136.40" y2="167.45" stroke="#000" stroke-width="0.35" stroke-dasharray="3 3" stroke-dashoffset="2"/>
<rect x="120.95" y="164.05" width="5.9" height="5.9" fill="#000"/>
<line x1="111.00" y1="181.40" x2="136.40" y2="181.40" stroke="#000" stroke-width="0.35" stroke-dasharray="1 2"/>
<polygon points="120.95,184.30 126.85,184.30 123.90,178.40" fill="#000"/>
<text transform="translate(159.91,155.60) scale(1.041,1)" font-size="9.3" fill="#000" stroke="#000" stroke-width="0.12">5</text>
<text transform="translate(168.12,155.60) scale(1.049,1)" font-size="9.3" fill="#000" stroke="#000" stroke-width="0.12">&lt;</text>
<text transform="translate(175.93,155.60) scale(1.086,1)" font-size="9.3" fill="#000" stroke="#000" stroke-width="0.12">Q</text>
<text transform="translate(183.86,151.40) scale(1.253,1)" font-size="7.0" fill="#000" stroke="#000" stroke-width="0.12">2</text>
<text transform="translate(190.12,155.60) scale(1.049,1)" font-size="9.3" fill="#000" stroke="#000" stroke-width="0.12">&lt;</text>
<text transform="translate(204.00,155.60) scale(1.064,1)" font-size="9.3" fill="#000" stroke="#000" stroke-width="0.12">15</text>
<text transform="translate(217.32,155.60) scale(1.027,1)" font-size="9.3" fill="#000" stroke="#000" stroke-width="0.12">GeV</text>
<text transform="translate(236.56,151.40) scale(1.253,1)" font-size="7.0" fill="#000" stroke="#000" stroke-width="0.12">2</text>
<text transform="translate(147.09,170.90) scale(1.075,1)" font-size="9.3" fill="#000" stroke="#000" stroke-width="0.12">15</text>
<text transform="translate(160.92,170.90) scale(1.049,1)" font-size="9.3" fill="#000" stroke="#000" stroke-width="0.12">&lt;</text>
<text transform="translate(168.73,170.90) scale(1.086,1)" font-size="9.3" fill="#000" stroke="#000" stroke-width="0.12">Q</text>
<text transform="translate(176.66,166.70) scale(1.253,1)" font-size="7.0" fill="#000" stroke="#000" stroke-width="0.12">2</text>
<text transform="translate(182.92,170.90) scale(1.049,1)" font-size="9.3" fill="#000" stroke="#000" stroke-width="0.12">&lt;</text>
<text transform="translate(196.73,170.90) scale(1.059,1)" font-size="9.3" fill="#000" stroke="#000" stroke-width="0.12">30</text>
<text transform="translate(210.12,170.90) scale(1.027,1)" font-size="9.3" fill="#000" stroke="#000" stroke-width="0.12">GeV</text>
<text transform="translate(229.36,166.70) scale(1.253,1)" font-size="7.0" fill="#000" stroke="#000" stroke-width="0.12">2</text>
<text transform="translate(146.93,185.00) scale(1.059,1)" font-size="9.3" fill="#000" stroke="#000" stroke-width="0.12">30</text>
<text transform="translate(160.92,185.00) scale(1.049,1)" font-size="9.3" fill="#000" stroke="#000" stroke-width="0.12">&lt;</text>
<text transform="translate(168.73,185.00) scale(1.086,1)" font-size="9.3" fill="#000" stroke="#000" stroke-width="0.12">Q</text>
<text transform="translate(176.66,180.80) scale(1.253,1)" font-size="7.0" fill="#000" stroke="#000" stroke-width="0.12">2</text>
<text transform="translate(182.92,185.00) scale(1.049,1)" font-size="9.3" fill="#000" stroke="#000" stroke-width="0.12">&lt;</text>
<text transform="translate(191.20,185.00) scale(1.062,1)" font-size="9.3" fill="#000" stroke="#000" stroke-width="0.12">100</text>
<text transform="translate(210.12,185.00) scale(1.027,1)" font-size="9.3" fill="#000" stroke="#000" stroke-width="0.12">GeV</text>
<text transform="translate(229.36,180.80) scale(1.253,1)" font-size="7.0" fill="#000" stroke="#000" stroke-width="0.12">2</text>
<polyline points="348.38,320.45 348.38,311.39 398.91,311.39 398.91,303.31 449.44,303.31 449.44,290.45 499.97,290.45 499.97,145.01 550.50,145.01 550.50,320.45" fill="none" stroke="#000" stroke-width="0.6"/>
<polyline points="348.38,320.45 348.38,267.94 398.91,267.94 398.91,278.96 449.44,278.96 449.44,272.44 499.97,272.44 499.97,231.53 550.50,231.53 550.50,320.45" fill="none" stroke="#000" stroke-width="0.6" stroke-dasharray="3 3"/>
<polyline points="348.38,320.45 348.38,289.47 398.91,289.47 398.91,301.41 449.44,301.41 449.44,273.48 499.97,273.48 499.97,186.52 550.50,186.52 550.50,320.45" fill="none" stroke="#000" stroke-width="0.6" stroke-dasharray="1 2"/>
<circle cx="373.64" cy="277.29" r="2.95" fill="#000"/>
<circle cx="424.17" cy="279.43" r="2.95" fill="#000"/>
<circle cx="474.71" cy="266.01" r="2.95" fill="#000"/>
<line x1="525.24" y1="224.32" x2="525.24" y2="231.48" stroke="#000" stroke-width="0.6"/>
<circle cx="525.24" cy="227.90" r="2.95" fill="#000"/>
<polyline points="95.85,573.00 95.85,565.67 146.38,565.67 146.38,558.80 196.91,558.80 196.91,535.49 247.44,535.49 247.44,401.56 297.97,401.56 297.97,573.00" fill="none" stroke="#000" stroke-width="0.6"/>
<polyline points="95.85,573.00 95.85,533.49 146.38,533.49 146.38,538.95 196.91,538.95 196.91,523.48 247.44,523.48 247.44,465.31 297.97,465.31 297.97,573.00" fill="none" stroke="#000" stroke-width="0.6" stroke-dasharray="3 3"/>
<polyline points="95.85,573.00 95.85,552.51 146.38,552.51 146.38,561.00 196.91,561.00 196.91,525.50 247.44,525.50 247.44,422.37 297.97,422.37 297.97,573.00" fill="none" stroke="#000" stroke-width="0.6" stroke-dasharray="1 2"/>
<rect x="118.16" y="546.04" width="5.9" height="5.9" fill="#000"/>
<rect x="168.70" y="536.00" width="5.9" height="5.9" fill="#000"/>
<rect x="219.23" y="505.09" width="5.9" height="5.9" fill="#000"/>
<line x1="272.71" y1="461.03" x2="272.71" y2="469.11" stroke="#000" stroke-width="0.6"/>
<rect x="269.76" y="462.12" width="5.9" height="5.9" fill="#000"/>
<polyline points="348.38,573.00 348.38,566.50 398.91,566.50 398.91,562.00 449.44,562.00 449.44,533.70 499.97,533.70 499.97,399.51 550.50,399.51 550.50,573.00" fill="none" stroke="#000" stroke-width="0.6"/>
<polyline points="348.38,573.00 348.38,544.00 398.91,544.00 398.91,548.00 449.44,548.00 449.44,525.50 499.97,525.50 499.97,443.60 550.50,443.60 550.50,573.00" fill="none" stroke="#000" stroke-width="0.6" stroke-dasharray="3 3"/>
<polyline points="348.38,573.00 348.38,562.32 398.91,562.32 398.91,556.49 449.44,556.49 449.44,526.48 499.97,526.48 499.97,416.49 550.50,416.49 550.50,573.00" fill="none" stroke="#000" stroke-width="0.6" stroke-dasharray="1 2"/>
<polygon points="370.69,557.78 376.59,557.78 373.64,551.88" fill="#000"/>
<polygon points="421.22,552.95 427.12,552.95 424.17,547.05" fill="#000"/>
<polygon points="471.76,516.45 477.66,516.45 474.71,510.55" fill="#000"/>
<line x1="525.24" y1="438.29" x2="525.24" y2="446.61" stroke="#000" stroke-width="0.6"/>
<polygon points="522.28,445.35 528.19,445.35 525.24,439.45" fill="#000"/>
<text transform="translate(368.10,138.80) scale(1.184,1)" font-size="9.3" fill="#000" stroke="#000" stroke-width="0.12">b)</text>
<text transform="translate(382.81,138.80) scale(1.041,1)" font-size="9.3" fill="#000" stroke="#000" stroke-width="0.12">5</text>
<text transform="translate(391.42,138.80) scale(1.049,1)" font-size="9.3" fill="#000" stroke="#000" stroke-width="0.12">&lt;</text>
<text transform="translate(398.63,138.80) scale(1.086,1)" font-size="9.3" fill="#000" stroke="#000" stroke-width="0.12">Q</text>
<text transform="translate(406.76,134.60) scale(1.253,1)" font-size="7.0" fill="#000" stroke="#000" stroke-width="0.12">2</text>
<text transform="translate(413.32,138.80) scale(1.049,1)" font-size="9.3" fill="#000" stroke="#000" stroke-width="0.12">&lt;</text>
<text transform="translate(421.19,138.80) scale(1.075,1)" font-size="9.3" fill="#000" stroke="#000" stroke-width="0.12">15</text>
<text transform="translate(434.31,138.80) scale(1.055,1)" font-size="9.3" fill="#000" stroke="#000" stroke-width="0.12">GeV</text>
<text transform="translate(454.36,134.60) scale(1.253,1)" font-size="7.0" fill="#000" stroke="#000" stroke-width="0.12">2</text>
<circle cx="389.10" cy="152.60" r="2.95" fill="#000"/>
<text transform="translate(400.18,156.00) scale(0.947,1)" font-size="9.3" fill="#000" stroke="#000" stroke-width="0.12">H1</text>
<text transform="translate(415.46,156.00) scale(0.996,1)" font-size="9.3" fill="#000" stroke="#000" stroke-width="0.12">1994</text>
<line x1="363.10" y1="167.45" x2="388.70" y2="167.45" stroke="#000" stroke-width="0.35" stroke-dasharray="3 3"/>
<text transform="translate(399.80,170.50) scale(1.045,1)" font-size="9.3" fill="#000" stroke="#000" stroke-width="0.12">RAPGAP</text>
<text transform="translate(443.19,170.50) scale(1.043,1)" font-size="9.3" fill="#000" stroke="#000" stroke-width="0.12">&quot;DIR+RES&quot;</text>
<line x1="363.10" y1="181.40" x2="388.70" y2="181.40" stroke="#000" stroke-width="0.35"/>
<text transform="translate(399.80,184.60) scale(1.045,1)" font-size="9.3" fill="#000" stroke="#000" stroke-width="0.12">RAPGAP</text>
<text transform="translate(442.66,184.60) scale(1.122,1)" font-size="9.3" fill="#000" stroke="#000" stroke-width="0.12">&quot;DIR&quot;</text>
<line x1="363.10" y1="195.30" x2="388.70" y2="195.30" stroke="#000" stroke-width="0.35" stroke-dasharray="1 2"/>
<text transform="translate(400.08,198.70) scale(1.058,1)" font-size="9.3" fill="#000" stroke="#000" stroke-width="0.12">ARIADNE</text>
<text transform="translate(445.78,198.70) scale(1.074,1)" font-size="9.3" fill="#000" stroke="#000" stroke-width="0.12">&quot;CDM&quot;</text>
<text transform="translate(115.44,391.30) scale(1.165,1)" font-size="9.3" fill="#000" stroke="#000" stroke-width="0.12">c)</text>
<text transform="translate(129.86,391.30) scale(0.898,1)" font-size="9.3" fill="#000" stroke="#000" stroke-width="0.12">15</text>
<text transform="translate(142.32,391.30) scale(1.049,1)" font-size="9.3" fill="#000" stroke="#000" stroke-width="0.12">&lt;</text>
<text transform="translate(150.22,391.30) scale(1.102,1)" font-size="9.3" fill="#000" stroke="#000" stroke-width="0.12">Q</text>
<text transform="translate(158.65,387.10) scale(1.284,1)" font-size="7.0" fill="#000" stroke="#000" stroke-width="0.12">2</text>
<text transform="translate(166.42,391.30) scale(1.049,1)" font-size="9.3" fill="#000" stroke="#000" stroke-width="0.12">&lt;</text>
<text transform="translate(173.43,391.30) scale(1.059,1)" font-size="9.3" fill="#000" stroke="#000" stroke-width="0.12">30</text>
<text transform="translate(187.20,391.30) scale(1.071,1)" font-size="9.3" fill="#000" stroke="#000" stroke-width="0.12">GeV</text>
<text transform="translate(207.16,387.10) scale(1.253,1)" font-size="7.0" fill="#000" stroke="#000" stroke-width="0.12">2</text>
<rect x="133.15" y="402.35" width="5.9" height="5.9" fill="#000"/>
<text transform="translate(147.18,408.50) scale(0.947,1)" font-size="9.3" fill="#000" stroke="#000" stroke-width="0.12">H1</text>
<text transform="translate(162.46,408.50) scale(0.996,1)" font-size="9.3" fill="#000" stroke="#000" stroke-width="0.12">1994</text>
<line x1="110.10" y1="419.95" x2="135.70" y2="419.95" stroke="#000" stroke-width="0.35" stroke-dasharray="3 3"/>
<text transform="translate(146.80,423.00) scale(1.045,1)" font-size="9.3" fill="#000" stroke="#000" stroke-width="0.12">RAPGAP</text>
<text transform="translate(190.18,423.00) scale(1.065,1)" font-size="9.3" fill="#000" stroke="#000" stroke-width="0.12">&quot;DIR+RES&quot;</text>
<line x1="110.10" y1="433.90" x2="135.70" y2="433.90" stroke="#000" stroke-width="0.35"/>
<text transform="translate(146.80,437.10) scale(1.045,1)" font-size="9.3" fill="#000" stroke="#000" stroke-width="0.12">RAPGAP</text>
<text transform="translate(189.66,437.10) scale(1.122,1)" font-size="9.3" fill="#000" stroke="#000" stroke-width="0.12">&quot;DIR&quot;</text>
<line x1="110.10" y1="447.80" x2="135.70" y2="447.80" stroke="#000" stroke-width="0.35" stroke-dasharray="1 2"/>
<text transform="translate(147.08,451.20) scale(1.058,1)" font-size="9.3" fill="#000" stroke="#000" stroke-width="0.12">ARIADNE</text>
<text transform="translate(192.78,451.20) scale(1.074,1)" font-size="9.3" fill="#000" stroke="#000" stroke-width="0.12">&quot;CDM&quot;</text>
<text transform="translate(368.48,391.30) scale(1.082,1)" font-size="9.3" fill="#000" stroke="#000" stroke-width="0.12">d)</text>
<text transform="translate(382.43,391.30) scale(1.048,1)" font-size="9.3" fill="#000" stroke="#000" stroke-width="0.12">30</text>
<text transform="translate(395.72,391.30) scale(1.049,1)" font-size="9.3" fill="#000" stroke="#000" stroke-width="0.12">&lt;</text>
<text transform="translate(404.33,391.30) scale(1.086,1)" font-size="9.3" fill="#000" stroke="#000" stroke-width="0.12">Q</text>
<text transform="translate(412.06,387.10) scale(1.253,1)" font-size="7.0" fill="#000" stroke="#000" stroke-width="0.12">2</text>
<text transform="translate(419.42,391.30) scale(1.049,1)" font-size="9.3" fill="#000" stroke="#000" stroke-width="0.12">&lt;</text>
<text transform="translate(426.40,391.30) scale(1.069,1)" font-size="9.3" fill="#000" stroke="#000" stroke-width="0.12">100</text>
<text transform="translate(445.20,391.30) scale(1.066,1)" font-size="9.3" fill="#000" stroke="#000" stroke-width="0.12">GeV</text>
<text transform="translate(465.06,387.10) scale(1.253,1)" font-size="7.0" fill="#000" stroke="#000" stroke-width="0.12">2</text>
<polygon points="386.15,408.40 392.05,408.40 389.10,402.50" fill="#000"/>
<text transform="translate(400.18,408.50) scale(0.947,1)" font-size="9.3" fill="#000" stroke="#000" stroke-width="0.12">H1</text>
<text transform="translate(415.46,408.50) scale(0.996,1)" font-size="9.3" fill="#000" stroke="#000" stroke-width="0.12">1994</text>
<line x1="363.10" y1="419.95" x2="388.70" y2="419.95" stroke="#000" stroke-width="0.35" stroke-dasharray="3 3"/>
<text transform="translate(399.80,423.00) scale(1.045,1)" font-size="9.3" fill="#000" stroke="#000" stroke-width="0.12">RAPGAP</text>
<text transform="translate(443.19,423.00) scale(1.043,1)" font-size="9.3" fill="#000" stroke="#000" stroke-width="0.12">&quot;DIR+RES&quot;</text>
<line x1="363.10" y1="433.90" x2="388.70" y2="433.90" stroke="#000" stroke-width="0.35"/>
<text transform="translate(399.80,437.10) scale(1.045,1)" font-size="9.3" fill="#000" stroke="#000" stroke-width="0.12">RAPGAP</text>
<text transform="translate(442.66,437.10) scale(1.122,1)" font-size="9.3" fill="#000" stroke="#000" stroke-width="0.12">&quot;DIR&quot;</text>
<line x1="363.10" y1="447.80" x2="388.70" y2="447.80" stroke="#000" stroke-width="0.35" stroke-dasharray="1 2"/>
<text transform="translate(400.08,451.20) scale(1.058,1)" font-size="9.3" fill="#000" stroke="#000" stroke-width="0.12">ARIADNE</text>
<text transform="translate(445.78,451.20) scale(1.074,1)" font-size="9.3" fill="#000" stroke="#000" stroke-width="0.12">&quot;CDM&quot;</text>
</svg>
</body></html>
